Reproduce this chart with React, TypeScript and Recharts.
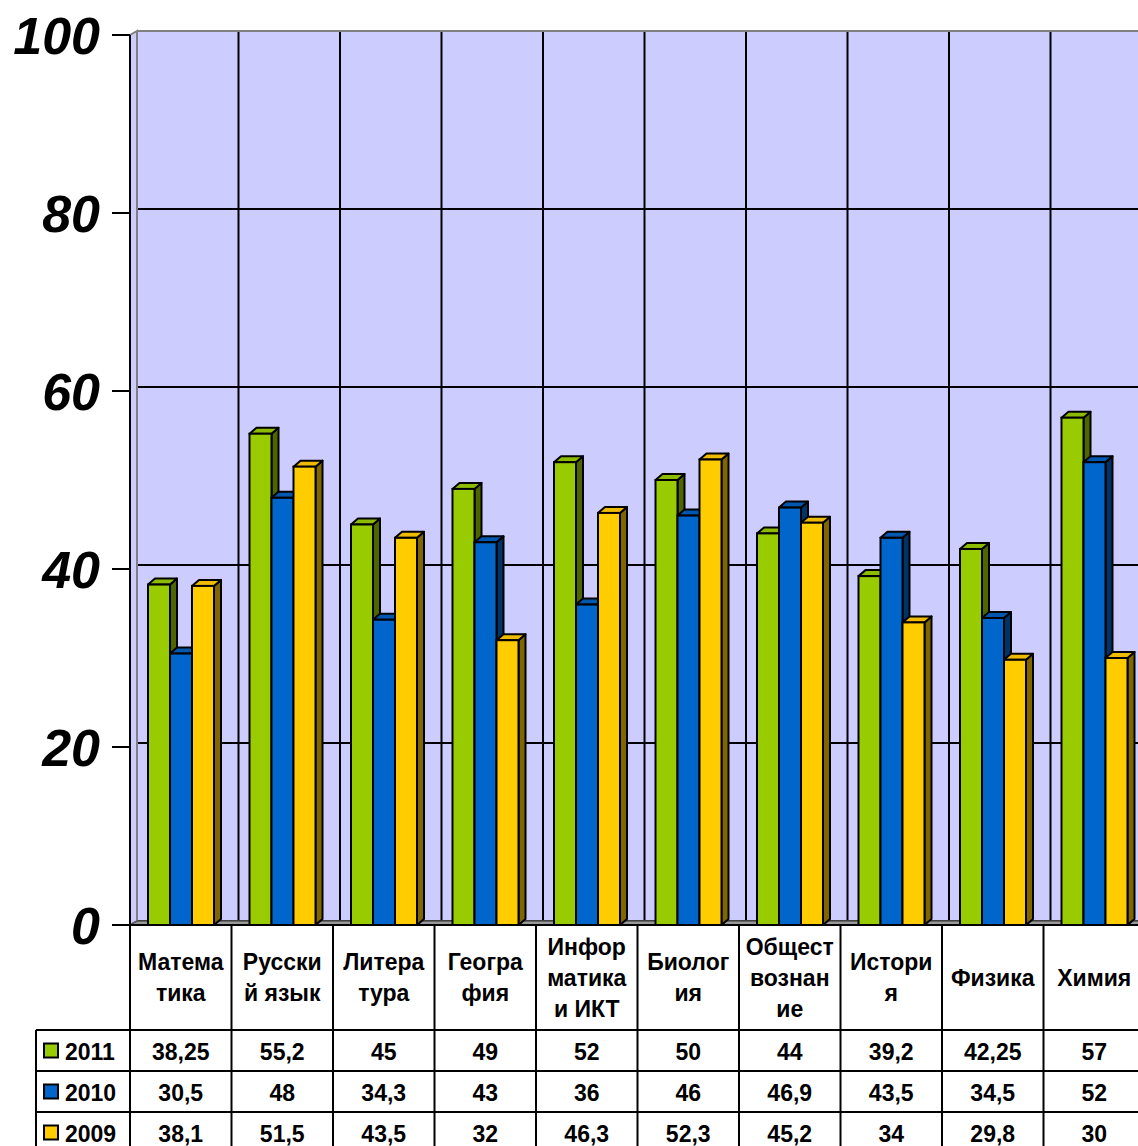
import { BarChart, Bar, XAxis, YAxis, CartesianGrid, ReferenceLine } from 'recharts'

const categories = [
  'Матема\nтика',
  'Русски\nй язык',
  'Литера\nтура',
  'Геогра\nфия',
  'Инфор\nматика\nи ИКТ',
  'Биолог\nия',
  'Общест\nвознан\nие',
  'Истори\nя',
  'Физика',
  'Химия',
]
const years = ['2011', '2010', '2009']
const values2011 = [38.25, 55.2, 45, 49, 52, 50, 44, 39.2, 42.25, 57]
const values2010 = [30.5, 48, 34.3, 43, 36, 46, 46.9, 43.5, 34.5, 52]
const values2009 = [38.1, 51.5, 43.5, 32, 46.3, 52.3, 45.2, 34, 29.8, 30]
const yTicks = [0, 20, 40, 60, 80, 100]
// category boundaries on the back wall
const wallTicks = [0, 1, 2, 3, 4, 5, 6, 7, 8, 9, 10]

const seriesValues = [values2011, values2010, values2009]
const seriesKeys = ['y2011', 'y2010', 'y2009']
const seriesColors = [
  { front: '#99CC00', top: '#8DBB00', side: '#4D6600' },
  { front: '#0066CC', top: '#0058B0', side: '#003366' },
  { front: '#FFCC00', top: '#EEBB00', side: '#806600' },
]

const rows = categories.map((name, i) => ({
  name,
  y2011: values2011[i],
  y2010: values2010[i],
  y2009: values2009[i],
}))
const wallRows = wallTicks.map((t) => ({ t, v: 0 }))

// layout
const W = 1160
const H = 990
const LEFT = 130
const RIGHT = 1145
const TOP = 35
const BOTTOM = 925
const WALL_DX = 7
const WALL_DY = 4
const DEPTH_X = 7
const DEPTH_Y = 6
const COL_W = (RIGHT - LEFT) / categories.length
const LEGEND_X = 36
const HEADER_BOTTOM = 1030
const ROW_H = 41
const FONT = '"Liberation Sans", Arial, sans-serif'

const fmt = (v: number) => String(v).replace('.', ',')

const make3D = (front: string, top: string, side: string) => (props: any) => {
  const { x, y, width, height } = props
  if (height == null || width == null) return null
  const r = x + width
  const b = y + height
  return (
    <g>
      <polygon
        points={`${r},${y} ${r + DEPTH_X},${y - DEPTH_Y} ${r + DEPTH_X},${b - DEPTH_Y} ${r},${b}`}
        fill={side}
        stroke="#000"
        strokeWidth={2}
        strokeLinejoin="round"
      />
      <polygon
        points={`${x},${y} ${x + DEPTH_X},${y - DEPTH_Y} ${r + DEPTH_X},${y - DEPTH_Y} ${r},${y}`}
        fill={top}
        stroke="#000"
        strokeWidth={2}
        strokeLinejoin="round"
      />
      <rect x={x} y={y} width={width} height={height} fill={front} stroke="#000" strokeWidth={2} />
    </g>
  )
}

function YTick(props: any) {
  const { x, y, payload } = props
  return (
    <text
      x={x}
      y={y}
      dy="0.36em"
      textAnchor="end"
      fontFamily={FONT}
      fontSize={52}
      fontWeight="bold"
      fontStyle="italic"
      fill="#000"
    >
      {payload.value}
    </text>
  )
}

function DataTable() {
  const colX = (i: number) => LEFT + i * COL_W
  const rowTop = (r: number) => HEADER_BOTTOM + r * ROW_H
  const headerMid = (BOTTOM + HEADER_BOTTOM) / 2
  const textProps = {
    fontFamily: FONT,
    fontSize: 23,
    fontWeight: 'bold' as const,
    fill: '#000',
  }
  return (
    <svg width={W} height={1160} style={{ position: 'absolute', left: 0, top: 0 }}>
      <line x1={LEFT} y1={BOTTOM} x2={W} y2={BOTTOM} stroke="#000" strokeWidth={2} />
      {[0, 1, 2].map((r) => (
        <line key={r} x1={LEGEND_X} y1={rowTop(r)} x2={W} y2={rowTop(r)} stroke="#000" strokeWidth={2} />
      ))}
      <line x1={LEGEND_X} y1={HEADER_BOTTOM} x2={LEGEND_X} y2={1160} stroke="#000" strokeWidth={2} />
      {categories.concat(['']).map((_, i) => (
        <line key={i} x1={colX(i)} y1={BOTTOM} x2={colX(i)} y2={1160} stroke="#000" strokeWidth={2} />
      ))}
      {categories.map((c, i) => {
        const lines = c.split('\n')
        const start = headerMid - ((lines.length - 1) * 31) / 2
        return lines.map((ln, k) => (
          <text
            key={`${i}-${k}`}
            x={colX(i) + COL_W / 2}
            y={start + k * 31}
            dy="0.36em"
            textAnchor="middle"
            {...textProps}
          >
            {ln}
          </text>
        ))
      })}
      {years.map((yr, r) => (
        <g key={yr}>
          <rect
            x={LEGEND_X + 8}
            y={rowTop(r) + ROW_H / 2 - 7}
            width={14}
            height={14}
            fill={seriesColors[r].front}
            stroke="#000"
            strokeWidth={2}
          />
          <text x={LEGEND_X + 29} y={rowTop(r) + ROW_H / 2 + 1} dy="0.36em" {...textProps}>
            {yr}
          </text>
          {seriesValues[r].map((v, i) => (
            <text
              key={i}
              x={colX(i) + COL_W / 2}
              y={rowTop(r) + ROW_H / 2 + 1}
              dy="0.36em"
              textAnchor="middle"
              {...textProps}
            >
              {fmt(v)}
            </text>
          ))}
        </g>
      ))}
    </svg>
  )
}

export default function App() {
  return (
    <div
      style={{
        position: 'absolute',
        left: 0,
        top: 0,
        width: 1138,
        height: 1146,
        overflow: 'hidden',
        background: '#fff',
      }}
    >
      {/* back wall */}
      <div style={{ position: 'absolute', left: 0, top: 0 }}>
        <BarChart
          width={W}
          height={H}
          data={wallRows}
          margin={{ top: TOP - WALL_DY, right: W - RIGHT - WALL_DX, bottom: H - (BOTTOM - WALL_DY), left: LEFT + WALL_DX }}
        >
          <XAxis type="number" dataKey="t" domain={[0, 10]} ticks={wallTicks} allowDataOverflow hide />
          <YAxis type="number" dataKey="v" domain={[0, 100]} ticks={yTicks} allowDataOverflow hide />
          <CartesianGrid fill="#CCCCFF" fillOpacity={1} stroke="#000" strokeWidth={2} />
          <ReferenceLine y={100} stroke="#808080" strokeWidth={2} />
          <ReferenceLine x={0} stroke="#808080" strokeWidth={2} />
        </BarChart>
      </div>

      {/* side wall and floor */}
      <svg width={W} height={H} style={{ position: 'absolute', left: 0, top: 0 }}>
        <polygon
          points={`${LEFT},${TOP} ${LEFT + WALL_DX},${TOP - WALL_DY} ${LEFT + WALL_DX},${BOTTOM - WALL_DY} ${LEFT},${BOTTOM}`}
          fill="#CCCCFF"
          stroke="#808080"
          strokeWidth={2}
        />
        <polygon
          points={`${LEFT},${BOTTOM} ${LEFT + WALL_DX},${BOTTOM - WALL_DY} ${RIGHT + WALL_DX},${BOTTOM - WALL_DY} ${RIGHT},${BOTTOM}`}
          fill="#999999"
          stroke="#555555"
          strokeWidth={1.5}
        />
      </svg>

      {/* bars and value axis */}
      <div style={{ position: 'absolute', left: 0, top: 0 }}>
        <BarChart
          width={W}
          height={H}
          data={rows}
          barSize={22}
          barGap={0}
          margin={{ top: TOP, right: W - RIGHT, bottom: H - BOTTOM, left: 0 }}
        >
          <XAxis dataKey="name" type="category" hide />
          <YAxis
            type="number"
            domain={[0, 100]}
            ticks={yTicks}
            width={LEFT}
            interval={0}
            axisLine={{ stroke: '#000', strokeWidth: 2 }}
            tickLine={{ stroke: '#000', strokeWidth: 2 }}
            tickSize={18}
            tickMargin={12}
            tick={<YTick />}
          />
          {seriesKeys.map((k, i) => (
            <Bar
              key={k}
              dataKey={k}
              fill={seriesColors[i].front}
              isAnimationActive={false}
              shape={make3D(seriesColors[i].front, seriesColors[i].top, seriesColors[i].side)}
            />
          ))}
        </BarChart>
      </div>

      <DataTable />
    </div>
  )
}
